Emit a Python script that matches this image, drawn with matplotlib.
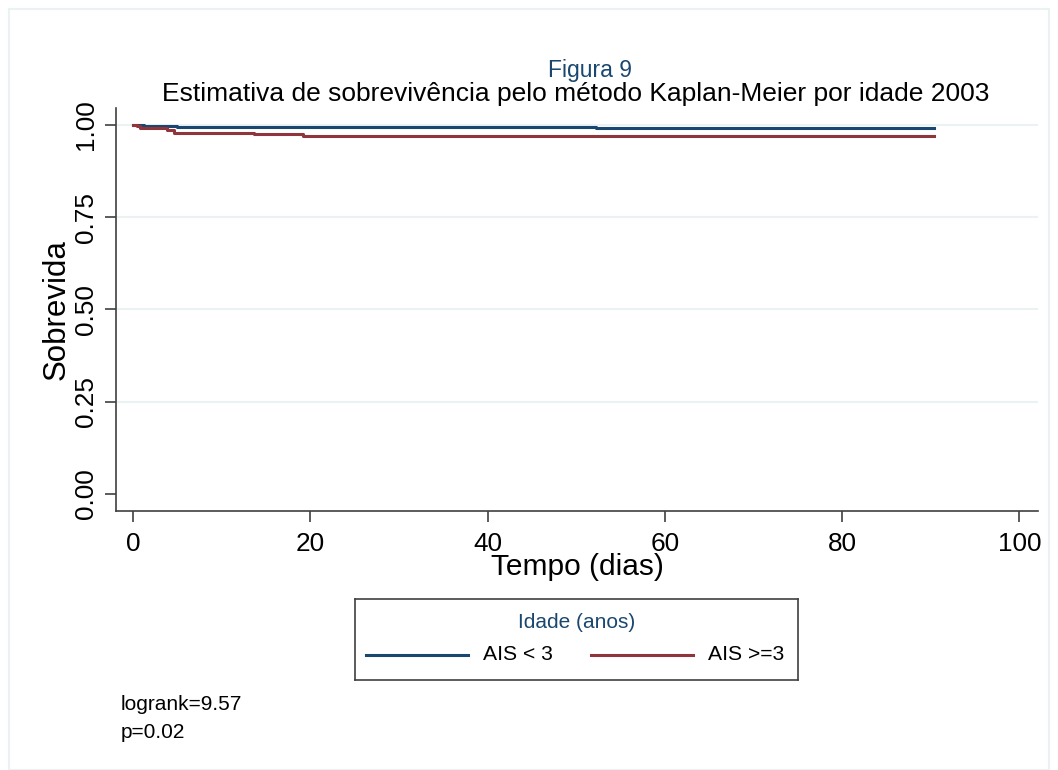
import matplotlib.pyplot as plt
import numpy as np

plt.rcParams['font.family'] = ['Liberation Sans', 'DejaVu Sans']

# Kaplan-Meier step estimates
t_ais_lt3 = [0, 0.5, 1.2, 5.0, 6.8, 52.2, 90.4]
s_ais_lt3 = [1.0, 0.999, 0.997, 0.995, 0.994, 0.991, 0.991]

t_ais_ge3 = [0, 0.4, 0.8, 3.8, 4.6, 13.6, 19.2, 90.4]
s_ais_ge3 = [1.0, 0.997, 0.991, 0.985, 0.979, 0.975, 0.970, 0.970]

xticks = [0, 20, 40, 60, 80, 100]
yticks = [0.00, 0.25, 0.50, 0.75, 1.00]
grid_y = [0.25, 0.50, 0.75, 1.00]

navy = '#1a476f'
maroon = '#90353b'
gridc = '#eaf2f3'

W, H = 1058, 770
fig = plt.figure(figsize=(W / 100, H / 100), dpi=100)
fig.patch.set_facecolor('white')

# thin outer frame
fig.add_artist(plt.Rectangle((9 / W, 0), (W - 18) / W, 1 - 9 / H, transform=fig.transFigure,
                             fill=False, edgecolor=gridc, lw=1.5))

ax = fig.add_axes([116 / W, 1 - 510.7 / H, (1038 - 116) / W, (510.7 - 108) / H])
for g in grid_y:
    ax.axhline(g, color=gridc, lw=1.5, zorder=0)

l1, = ax.step(t_ais_lt3, s_ais_lt3, where='post', color=navy, lw=2.2)
l2, = ax.step(t_ais_ge3, s_ais_ge3, where='post', color=maroon, lw=2.2)

ax.set_xlim(-1.92, 102.1)
ax.set_ylim(-0.046, 1.046)
ax.set_xticks(xticks)
ax.set_xticklabels([str(x) for x in xticks])
ax.set_yticks(yticks)
ax.set_yticklabels(['%.2f' % y for y in yticks], rotation=90, va='center')
ax.tick_params(direction='out', length=8, width=1.2, color='#404040', labelsize=18.8)
ax.tick_params(axis='x', pad=7)
ax.tick_params(axis='y', pad=5)
for s in ['top', 'right']:
    ax.spines[s].set_visible(False)
for s in ['left', 'bottom']:
    ax.spines[s].set_color('#404040')
    ax.spines[s].set_linewidth(1.2)

ax.set_xlabel('Tempo (dias)', fontsize=21.5, labelpad=-2)
ax.set_ylabel('Sobrevida', fontsize=22.5, labelpad=2)

fig.text(590 / W, 1 - 77 / H, 'Figura 9', ha='center', va='baseline', fontsize=16.5, color=navy)
fig.text(576 / W, 1 - 101 / H, 'Estimativa de sobrevivência pelo método Kaplan-Meier por idade 2003',
         ha='center', va='baseline', fontsize=19)

# legend box
lax = fig.add_axes([355 / W, 1 - 680 / H, (798 - 355) / W, (680 - 599) / H])
lax.set_xlim(355, 798)
lax.set_ylim(680, 599)
lax.set_xticks([])
lax.set_yticks([])
for s in lax.spines.values():
    s.set_color('#404040')
    s.set_linewidth(1.2)
lax.text(577, 623, 'Idade (anos)', ha='center', va='center', fontsize=15, color=navy)
lax.plot([366, 468], [655, 655], color=l1.get_color(), lw=2.2)
lax.text(483, 655, 'AIS < 3', ha='left', va='center', fontsize=15.2)
lax.plot([591, 693], [655, 655], color=l2.get_color(), lw=2.2)
lax.text(708, 655, 'AIS >=3', ha='left', va='center', fontsize=15.2)

fig.text(121 / W, 1 - 705 / H, 'logrank=9.57', ha='left', va='center', fontsize=15)
fig.text(121 / W, 1 - 733 / H, 'p=0.02', ha='left', va='center', fontsize=15)

fig.savefig('out.png', dpi=100)
